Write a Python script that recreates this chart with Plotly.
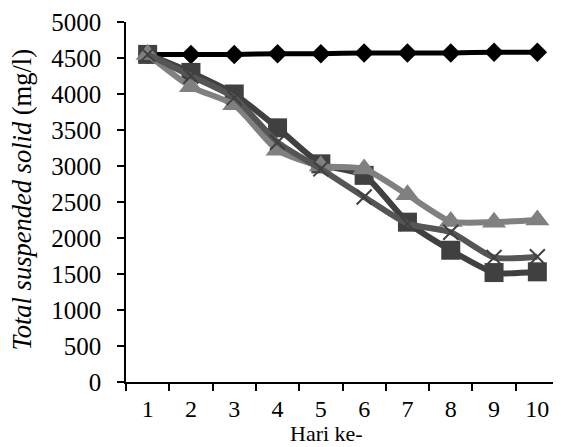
import plotly.graph_objects as go

days = ["1", "2", "3", "4", "5", "6", "7", "8", "9", "10"]
series_diamond = [4550, 4550, 4550, 4560, 4560, 4570, 4570, 4570, 4580, 4580]
series_square = [4550, 4300, 4000, 3530, 3030, 2870, 2220, 1830, 1520, 1530]
series_triangle = [4550, 4100, 3850, 3220, 3000, 2960, 2600, 2230, 2220, 2250]
series_x = [4550, 4250, 3950, 3330, 2960, 2570, 2200, 2080, 1730, 1740]
y_ticks = [0, 500, 1000, 1500, 2000, 2500, 3000, 3500, 4000, 4500, 5000]

FONT = "Liberation Serif"

fig = go.Figure()
fig.add_trace(go.Scatter(
    x=days, y=series_diamond, mode="lines+markers",
    line=dict(color="#000000", width=5, shape="spline", smoothing=0.6),
    marker=dict(symbol="diamond", size=15, color="#000000"),
    showlegend=False))
fig.add_trace(go.Scatter(
    x=days, y=series_square, mode="lines+markers",
    line=dict(color="#404040", width=6, shape="spline", smoothing=0.6),
    marker=dict(symbol="square", size=19, color="#404040"),
    showlegend=False))
fig.add_trace(go.Scatter(
    x=days, y=series_triangle, mode="lines+markers",
    line=dict(color="#808080", width=6, shape="spline", smoothing=0.6),
    marker=dict(symbol="triangle-up", size=21, color="#808080"),
    showlegend=False))
fig.add_trace(go.Scatter(
    x=days, y=series_x, mode="lines+markers",
    line=dict(color="#555555", width=6, shape="spline", smoothing=0.6),
    marker=dict(symbol="x-thin", size=15, color="#404040",
                line=dict(color="#404040", width=2)),
    showlegend=False))

fig.update_layout(
    width=553, height=439,
    margin=dict(l=118, r=2, t=14, b=65),
    paper_bgcolor="white", plot_bgcolor="white",
    font=dict(family=FONT, size=25, color="#000000"),
    xaxis=dict(
        type="category", range=[-0.5, 9.5],
        showline=True, linecolor="#000000", linewidth=1.5,
        ticks="outside", ticklen=7, tickwidth=1.5, tickcolor="#000000",
        tickson="boundaries", showgrid=False, zeroline=False,
        tickfont=dict(family=FONT, size=24), ticklabelstandoff=4,
        automargin=False, fixedrange=True),
    yaxis=dict(
        range=[0, 5000], tickvals=y_ticks,
        showline=True, linecolor="#000000", linewidth=1.5,
        ticks="outside", ticklen=7, tickwidth=1.5, tickcolor="#000000",
        showgrid=False, zeroline=False,
        tickfont=dict(family=FONT, size=25), ticklabelstandoff=11,
        automargin=False, fixedrange=True),
    annotations=[
        dict(text="<i>Total suspended solid</i> (mg/l)", textangle=-90,
             xref="paper", yref="paper", x=-0.240, y=0.507,
             xanchor="center", yanchor="middle", showarrow=False,
             font=dict(family=FONT, size=26.5)),
        dict(text="Hari ke-", xref="paper", yref="paper",
             x=0.4635, y=-0.143, xanchor="center", yanchor="middle",
             showarrow=False, font=dict(family=FONT, size=22)),
    ],
)

fig.write_html("out.html")
